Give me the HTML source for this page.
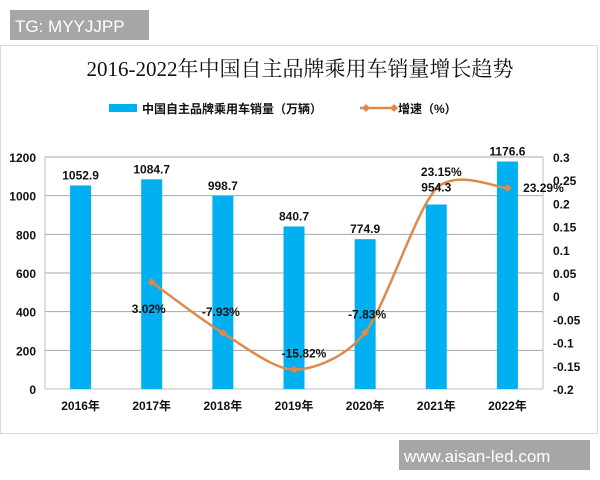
<!DOCTYPE html>
<html><head><meta charset="utf-8">
<style>
body{margin:0;background:#fff;}
#wrap{position:relative;width:600px;height:480px;overflow:hidden;font-family:"Liberation Sans","Noto Sans CJK SC",sans-serif;}
</style></head>
<body>
<div id="wrap">
<svg id="c" width="600" height="480" xmlns="http://www.w3.org/2000/svg">
  <rect x="0.5" y="45.5" width="597" height="388" fill="#fff" stroke="#d9d9d9"/>
  <rect x="10" y="10" width="139" height="30" fill="#a6a6a6"/>
  <text x="15" y="32" font-size="17" fill="#fff">TG: MYYJJPP</text>
  <rect x="399" y="440" width="191" height="30" fill="#a6a6a6"/>
  <text x="404" y="462" font-size="17" fill="#fff">www.aisan-led.com</text>
  <text x="300" y="76" font-size="21" text-anchor="middle" fill="#111" font-family="'Liberation Serif','Noto Serif CJK SC',serif">2016-2022年中国自主品牌乘用车销量增长趋势</text>
  <rect x="109" y="104" width="28" height="8" fill="#00b0f0"/>
  <text x="142" y="113" font-size="12" font-weight="bold" fill="#111">中国自主品牌乘用车销量（万辆）</text>
  <line x1="360" y1="108" x2="396" y2="108" stroke="#e0894a" stroke-width="2.5"/>
  <path d="M362 108 l4 -4 l4 4 l-4 4z M390 108 l4 -4 l4 4 l-4 4z" fill="#e0894a"/>
  <text x="398" y="113" font-size="12" font-weight="bold" fill="#111">增速（%）</text>
  <g id="grid"></g><g id="bars"></g><g id="line"></g><g id="labels"></g>
</svg>
</div>
<script>
const categories=["2016年","2017年","2018年","2019年","2020年","2021年","2022年"];
const sales=[1052.9,1084.7,998.7,840.7,774.9,954.3,1176.6];
const growth=[null,0.0302,-0.0793,-0.1582,-0.0783,0.2315,0.2329];
const growthLabels=["","3.02%","-7.93%","-15.82%","-7.83%","23.15%","23.29%"];
const leftTicks=[0,200,400,600,800,1000,1200];
const rightTicks=["0.3","0.25","0.2","0.15","0.1","0.05","0","-0.05","-0.1","-0.15","-0.2"];
const NS="http://www.w3.org/2000/svg";
const L=45,R=543,T=157,B=389;
const cw=(R-L)/categories.length;
const xc=i=>L+cw*(i+0.5);
const yl=v=>B-(v/1200)*(B-T);
const yr=v=>B-((v+0.2)/0.5)*(B-T);
function mk(tag,attrs,parent,txt){const e=document.createElementNS(NS,tag);for(const k in attrs)e.setAttribute(k,attrs[k]);if(txt!==undefined)e.textContent=txt;document.getElementById(parent).appendChild(e);return e;}
leftTicks.forEach(v=>{
  const g=mk('line',{x1:L,x2:R,y1:yl(v),y2:yl(v),stroke:v===0?'#bfbfbf':'#a6a6a6','stroke-width':1},'grid');
  
  
  const t=mk('text',{x:36,y:yl(v)+5,'font-size':12,'font-weight':'bold','text-anchor':'end',fill:'#111'},'grid',String(v));
  
  
});
rightTicks.forEach(s=>{
  const v=parseFloat(s);
  const t=mk('text',{x:553,y:yr(v)+5,'font-size':12,'font-weight':'bold',fill:'#111'},'grid',s);
  
  
});
const bl=mk('line',{x1:R,x2:R,y1:T,y2:B,stroke:'#bfbfbf'},'grid');


const ll=mk('line',{x1:L,x2:L,y1:T,y2:B,stroke:'#bfbfbf'},'grid');


categories.forEach((c,i)=>{
  const t=mk('text',{x:xc(i),y:410,'font-size':12,'font-weight':'bold','text-anchor':'middle',fill:'#111'},'labels',c);
  
  
});
const valOff=[[0,-6],[0,-6],[0,-6],[0,-6],[0,-6],[0,-13],[0,-6]];
sales.forEach((v,i)=>{
  const b=mk('rect',{x:xc(i)-10.5,y:yl(v),width:21,height:B-yl(v),fill:'#00b0f0'},'bars');
  
  
  const t=mk('text',{x:xc(i)+valOff[i][0],y:yl(v)+valOff[i][1],'font-size':12,'font-weight':'bold','text-anchor':'middle',fill:'#111'},'labels',v.toFixed(1));
  
  
});
const pts=[];growth.forEach((g,i)=>{if(g!==null)pts.push([xc(i),yr(g),i]);});
let d='M'+pts[0][0]+' '+pts[0][1];
for(let k=0;k<pts.length-1;k++){
  const p0=pts[Math.max(0,k-1)],p1=pts[k],p2=pts[k+1],p3=pts[Math.min(pts.length-1,k+2)];
  const t=0.28;
  const c1x=p1[0]+(p2[0]-p0[0])*t/2,c1y=p1[1]+(p2[1]-p0[1])*t/2;
  const c2x=p2[0]-(p3[0]-p1[0])*t/2,c2y=p2[1]-(p3[1]-p1[1])*t/2;
  d+=` C${c1x} ${c1y} ${c2x} ${c2y} ${p2[0]} ${p2[1]}`;
}
const path=mk('path',{d:d,fill:'none',stroke:'#e0894a','stroke-width':2.5},'line');


const lblOff=[[0,0],[-3,31],[-2,-17],[10,-12],[2,-14],[5,-13],[36,4]];
pts.forEach(p=>{
  const i=p[2];
  if(i!==5){
    const m=mk('path',{d:`M${p[0]-4} ${p[1]} l4 -4 l4 4 l-4 4z`,fill:'#e0894a'},'line');
    
    
  }
  const t=mk('text',{x:p[0]+lblOff[i][0],y:p[1]+lblOff[i][1],'font-size':12,'font-weight':'bold','text-anchor':'middle',fill:'#111'},'labels',growthLabels[i]);
  
  
});
</script>
</body></html>
